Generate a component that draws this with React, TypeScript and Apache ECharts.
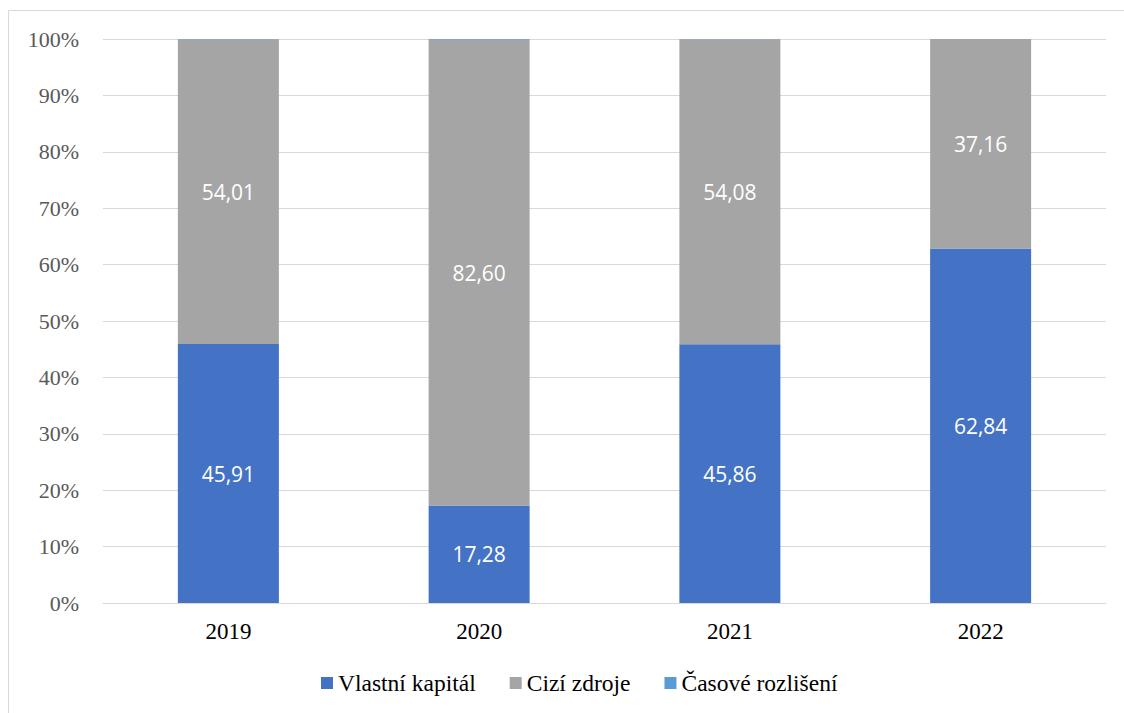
import React, { useEffect, useRef } from "react";
import * as echarts from "echarts";

const years = ["2019", "2020", "2021", "2022"];
const vlastniKapital = [45.91, 17.28, 45.86, 62.84];
const ciziZdroje = [54.01, 82.6, 54.08, 37.16];
const casoveRozliseni = [0.08, 0.12, 0.06, 0.0];
const yTicks = [0, 10, 20, 30, 40, 50, 60, 70, 80, 90, 100];

const fmt = (v: number) => v.toFixed(2).replace(".", ",");
const SERIF = "'Liberation Serif', 'Times New Roman', 'DejaVu Serif', serif";

export default function App() {
  const ref = useRef<HTMLDivElement>(null);
  useEffect(() => {
    if (!ref.current) return;
    const chart = echarts.init(ref.current, null, { renderer: "svg" });
    const labelStyle = {
      show: true,
      position: "inside" as const,
      color: "#ffffff",
      fontFamily: "'Open Sans', sans-serif",
      fontSize: 21,
      formatter: (p: any) => fmt(p.value),
    };
    chart.setOption({
      animation: false,
      backgroundColor: "#ffffff",
      graphic: [
        {
          type: "rect",
          shape: { x: 8.5, y: 10.5, width: 1130, height: 720 },
          style: { fill: "none", stroke: "#d9d9d9", lineWidth: 1 },
          silent: true,
        },
      ],
      grid: { left: 103, right: 18, top: 39, bottom: 110, containLabel: false },
      legend: {
        bottom: 13,
        left: 316,
        itemWidth: 12,
        itemHeight: 12,
        itemGap: 34,
        icon: "rect",
        textStyle: { fontFamily: SERIF, fontSize: 23.5, color: "#000000" },
        data: ["Vlastní kapitál", "Cizí zdroje", "Časové rozlišení"],
      },
      xAxis: {
        type: "category",
        data: years,
        axisLine: { lineStyle: { color: "#d9d9d9", width: 1 } },
        axisTick: { show: false },
        axisLabel: { fontFamily: SERIF, fontSize: 23, color: "#000000", margin: 17 },
      },
      yAxis: {
        type: "value",
        min: yTicks[0],
        max: yTicks[yTicks.length - 1],
        interval: 10,
        axisLine: { show: false },
        axisTick: { show: false },
        splitLine: { lineStyle: { color: "#d9d9d9", width: 1 } },
        axisLabel: {
          fontFamily: SERIF,
          fontSize: 22,
          color: "#595959",
          margin: 24,
          formatter: (v: number) => `${v}%`,
        },
      },
      series: [
        {
          name: "Vlastní kapitál",
          type: "bar",
          stack: "total",
          barWidth: 101,
          data: vlastniKapital,
          itemStyle: { color: "#4472C4" },
          label: labelStyle,
        },
        {
          name: "Cizí zdroje",
          type: "bar",
          stack: "total",
          barWidth: 101,
          data: ciziZdroje,
          itemStyle: { color: "#A5A5A5" },
          label: labelStyle,
        },
        {
          name: "Časové rozlišení",
          type: "bar",
          stack: "total",
          barWidth: 101,
          data: casoveRozliseni,
          itemStyle: { color: "#5B9BD5" },
          label: { show: false },
        },
      ],
    });
    return () => chart.dispose();
  }, []);
  return (
    <div
      ref={ref}
      style={{ position: "absolute", left: 0, top: 0, width: 1124, height: 713 }}
    />
  );
}
